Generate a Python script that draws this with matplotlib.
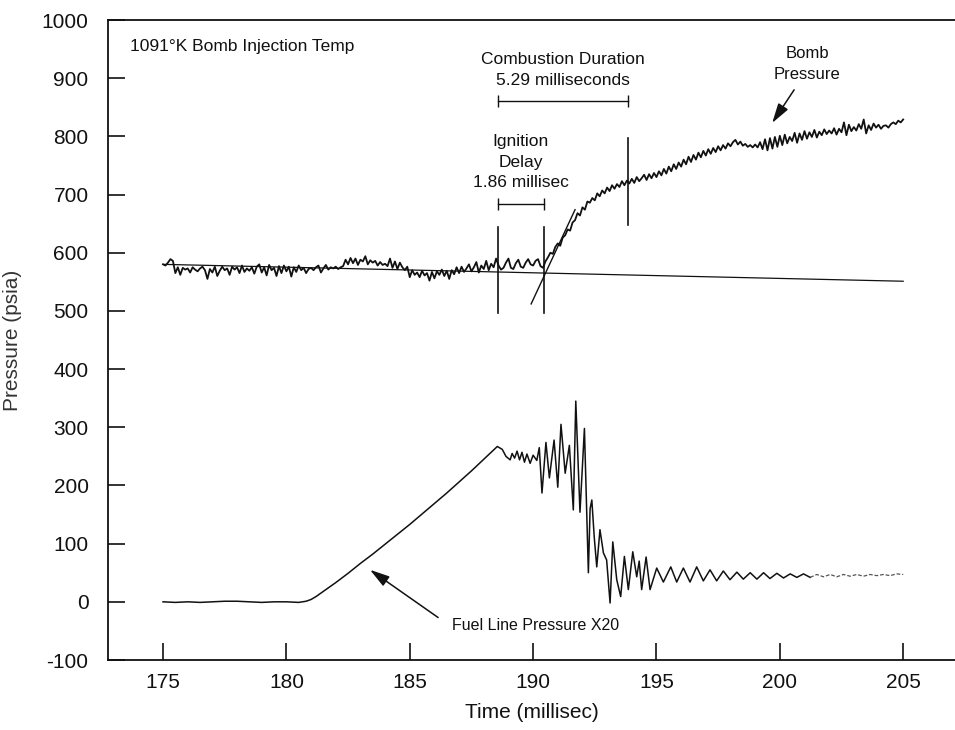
import numpy as np
import matplotlib
matplotlib.use("Agg")
import matplotlib.pyplot as plt

plt.rcParams['font.family'] = ['Liberation Sans', 'DejaVu Sans']
plt.rcParams['axes.unicode_minus'] = False

# bomb pressure trace, sampled every 0.1 ms from 175.0 to 205.0
bomb_time = np.linspace(175.0, 205.0, 301)
bomb_psia = [
    580, 578, 583, 589, 586, 565, 575, 562, 574, 571,
    573, 566, 575, 571, 568, 573, 576, 570, 555, 572,
    566, 576, 560, 569, 576, 570, 573, 562, 576, 571,
    575, 565, 578, 567, 573, 569, 575, 564, 576, 580,
    566, 575, 561, 579, 570, 574, 560, 577, 565, 578,
    568, 576, 559, 575, 567, 578, 570, 574, 565, 572,
    574, 570, 575, 578, 566, 573, 579, 571, 575, 573,
    576, 572, 575, 577, 588, 580, 591, 582, 590, 579,
    588, 585, 594, 580, 587, 583, 586, 578, 584, 579,
    581, 577, 590, 574, 585, 572, 583, 575, 570, 576,
    558, 570, 562, 566, 558, 569, 561, 565, 552, 567,
    556, 568, 562, 571, 560, 569, 555, 570, 563, 575,
    565, 576, 567, 573, 580, 568, 575, 584, 566, 578,
    572, 586, 570, 581, 575, 590, 578, 571, 574, 583,
    590, 574, 572, 582, 588, 576, 574, 583, 589, 580,
    578, 586, 589, 577, 574, 585, 592, 600, 598, 610,
    616, 612, 626, 630, 640, 638, 652, 656, 668, 664,
    678, 674, 688, 686, 694, 690, 702, 697, 707, 702,
    712, 706, 716, 710, 718, 713, 723, 716, 724, 719,
    727, 720, 730, 723, 728, 734, 725, 735, 728, 737,
    730, 740, 733, 744, 736, 748, 740, 752, 744, 755,
    748, 760, 752, 765, 756, 768, 760, 772, 764, 775,
    767, 778, 770, 780, 773, 783, 776, 785, 779, 788,
    783, 790, 794, 786, 791, 784, 787, 782, 785, 781,
    786, 781, 790, 778, 795, 776, 797, 779, 799, 782,
    801, 785, 803, 788, 799, 792, 806, 789, 805, 794,
    809, 796, 807, 799, 811, 798, 808, 802, 812, 804,
    810, 805, 814, 803, 813, 807, 824, 802, 820, 809,
    816, 810, 821, 813, 829, 805, 819, 811, 822, 815,
    820, 813, 818, 819, 815, 821, 824, 821, 827, 824,
    829,
]

# fuel line pressure (x20)
fuel_time = [
    175.0, 175.5, 176.0, 176.5, 177.0, 177.5, 178.0, 178.5, 179.0, 179.5,
    180.0, 180.5, 180.8, 181.0, 181.2, 181.5, 182.0, 182.5, 183.0, 183.5,
    184.0, 184.5, 185.0, 185.5, 186.0, 186.5, 187.0, 187.5, 188.0, 188.3,
    188.55, 188.75, 188.9, 189.07, 189.15, 189.25, 189.35, 189.45, 189.55, 189.65,
    189.75, 189.88, 190.0, 190.15, 190.25, 190.36, 190.52, 190.66, 190.85, 191.0,
    191.13, 191.3, 191.47, 191.63, 191.73, 191.9, 192.08, 192.24, 192.31, 192.38,
    192.48, 192.58, 192.71, 192.85, 192.98, 193.12, 193.23, 193.39, 193.55, 193.7,
    193.86, 194.04, 194.2, 194.3, 194.4, 194.58, 194.74, 195.01, 195.28, 195.58,
    195.82, 196.09, 196.36, 196.63, 196.9, 197.17, 197.44, 197.71, 197.98, 198.26,
    198.52, 198.8, 199.07, 199.34, 199.6, 199.88, 200.15, 200.42, 200.69, 200.96,
    201.23, 201.5, 201.77, 202.04, 202.31, 202.58, 202.85, 203.12, 203.39, 203.66,
    203.93, 204.2, 204.47, 204.74, 205.0,
]
fuel_psia = [
    0, -1, 0, -1, 0, 1, 1, 0, -1, 0,
    0, -1, 1, 4, 9, 18, 33, 49, 66, 82,
    99, 116, 133, 151, 169, 187, 206, 225, 245, 257,
    267, 262, 250, 244, 255, 247, 259, 244, 257, 240,
    254, 238, 252, 243, 265, 187, 274, 213, 278, 197,
    305, 221, 269, 158, 345, 154, 298, 50, 160, 175,
    110, 60, 124, 84, 72, -2, 103, 38, 9, 78,
    21, 86, 43, 70, 21, 77, 21, 58, 34, 60,
    34, 58, 34, 60, 36, 55, 36, 53, 38, 51,
    39, 50, 39, 50, 40, 49, 41, 48, 42, 48,
    42, 47, 43, 47, 43, 47, 44, 47, 44, 47,
    45, 47, 45, 48, 47,
]

# straight reference lines drawn on the original
base_time = [175.0, 205.0]
base_psia = [580, 551]
fit_time = [189.92, 191.7]
fit_psia = [512, 674]

ign_start = 188.57
ign_end = 190.43
comb_end = 193.86

fig = plt.figure(figsize=(9.55, 7.3), dpi=100)
ax = fig.add_axes([108 / 955, 70 / 730, 1 - 108 / 955, 640 / 730])

ink = '#111111'
ax.plot(bomb_time, bomb_psia, color=ink, lw=1.3)
ax.plot(base_time, base_psia, color=ink, lw=0.9)
ax.plot(fit_time, fit_psia, color=ink, lw=1.0)

# fuel line: solid, the far tail is faint/broken in the print
n_solid = fuel_time.index(201.23)
ax.plot(fuel_time[:n_solid + 1], fuel_psia[:n_solid + 1], color=ink, lw=1.1)
ax.plot(fuel_time[n_solid:], fuel_psia[n_solid:], color='#555555', lw=0.9, ls=(0, (3, 1.5)))

# timing markers
ax.plot([ign_start, ign_start], [497, 645], color=ink, lw=1.2)
ax.plot([ign_end, ign_end], [497, 645], color=ink, lw=1.2)
ax.plot([comb_end, comb_end], [647, 797], color=ink, lw=1.2)
ax.plot([ign_start, ign_end], [684, 684], color=ink, lw=1.0, marker='|', ms=8, mew=1.0)
ax.plot([ign_start, comb_end], [861, 861], color=ink, lw=1.0, marker='|', ms=8, mew=1.0)

# labels
ax.text(173.66, 955, '1091°K Bomb Injection Temp', fontsize=12.5, color=ink, va='center', ha='left')
ax.text(191.2, 932, 'Combustion Duration', fontsize=12.5, color=ink, ha='center', va='center')
ax.text(191.2, 896, '5.29 milliseconds', fontsize=12.5, color=ink, ha='center', va='center')
ax.text(189.5, 792, 'Ignition', fontsize=12.5, color=ink, ha='center', va='center')
ax.text(189.5, 755, 'Delay', fontsize=12.5, color=ink, ha='center', va='center')
ax.text(189.5, 720, '1.86 millisec', fontsize=12.5, color=ink, ha='center', va='center')
ax.text(201.1, 943, 'Bomb', fontsize=12, color=ink, ha='center', va='center')
ax.text(201.1, 907, 'Pressure', fontsize=12, color=ink, ha='center', va='center')
ax.text(186.7, -40, 'Fuel Line Pressure X20', fontsize=11.5, color=ink, ha='left', va='center')

arrow = dict(arrowstyle='-|>,head_length=1.2,head_width=0.35', color=ink, lw=1.1, shrinkA=0, shrinkB=0)
ax.annotate('', xy=(199.69, 823), xytext=(200.58, 880), arrowprops=arrow)
ax.annotate('', xy=(183.39, 55), xytext=(186.15, -27), arrowprops=arrow)

ax.set_xlim(172.77, 207.1)
ax.set_ylim(-100, 1000)
ax.set_xticks([175, 180, 185, 190, 195, 200, 205])
ax.set_yticks(range(-100, 1001, 100))
ax.tick_params(direction='in', length=12, width=1.2, labelsize=15, colors=ink)
ax.tick_params(axis='x', pad=9)
ax.tick_params(axis='y', pad=14)
ax.spines['right'].set_visible(False)
for s in ['left', 'top', 'bottom']:
    ax.spines[s].set_linewidth(1.3)
    ax.spines[s].set_color(ink)

ax.set_xlabel('Time (millisec)', fontsize=15, color=ink, labelpad=8)
ax.set_ylabel('Pressure (psia)', fontsize=15, color='#333333', labelpad=14)

fig.savefig('out.png', dpi=100)
